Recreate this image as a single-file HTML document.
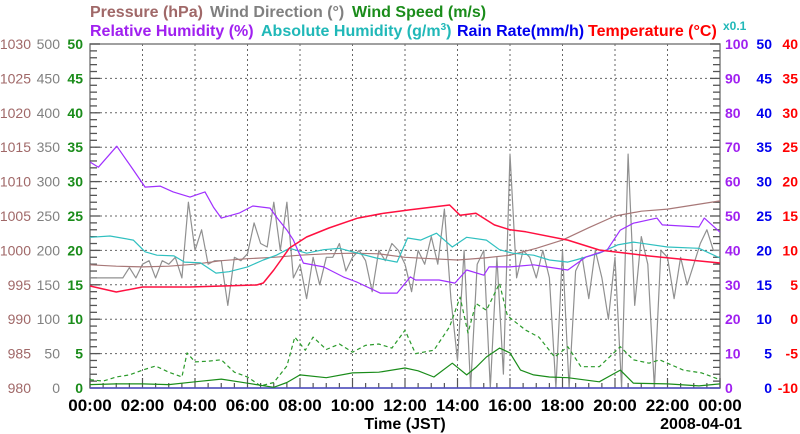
<!DOCTYPE html>
<html><head><meta charset="utf-8"><style>
html,body{margin:0;padding:0;background:#fff;}
svg{display:block;font-family:"Liberation Sans",sans-serif;}
</style></head><body>
<svg id="chart" width="800" height="434" viewBox="0 0 800 434" xmlns="http://www.w3.org/2000/svg">
<g font-size="16" font-weight="bold">
<text x="90" y="17" fill="#a06868">Pressure (hPa)</text>
<text x="210" y="17" fill="#808080">Wind Direction (°)</text>
<text x="352" y="17" fill="#1a8c1a">Wind Speed (m/s)</text>
<text x="90" y="36" fill="#a020f0">Relative Humidity (%)</text>
<text x="261" y="36" fill="#20b8b8">Absolute Humidity (g/m<tspan dy="-6" font-size="10">3</tspan><tspan dy="6">)</tspan></text>
<text x="457" y="36" fill="#0000ee">Rain Rate(mm/h)</text>
<text x="588" y="36" fill="#ff0000">Temperature (°C)</text>
<text x="723" y="30" fill="#20b8b8" font-size="12">x0.1</text>
</g>
<g id="grid"></g>
<g id="axes"></g>
<g id="series"></g>
<text x="405" y="429" font-size="16" font-weight="bold" text-anchor="middle">Time (JST)</text>
<text x="742" y="429" font-size="16" font-weight="bold" text-anchor="end">2008-04-01</text>
</svg>
<script>
// ---- data ----
const xTickLabels = ["00:00","02:00","04:00","06:00","08:00","10:00","12:00","14:00","16:00","18:00","20:00","22:00","00:00"];
const pressureTicks = [980,985,990,995,1000,1005,1010,1015,1020,1025,1030];
const windDirTicks = [0,50,100,150,200,250,300,350,400,450,500];
const windSpeedTicks = [0,5,10,15,20,25,30,35,40,45,50];
const rhTicks = [0,10,20,30,40,50,60,70,80,90,100];
const rainTicks = [0,5,10,15,20,25,30,35,40,45,50];
const tempTicks = [-10,-5,0,5,10,15,20,25,30,35,40];

const pressureHours = [0,1,2,3,4,5,6,7,8,9,10,11,12,13,14,15,16,17,18,19,20,21,22,23,24];
const pressureValues = [997.9,997.7,997.6,997.7,998.0,998.5,998.8,999.0,999.3,999.5,999.6,999.5,999.0,998.8,998.6,998.9,999.3,1000.3,1001.5,1003.3,1005.0,1005.7,1006.0,1006.6,1007.2];

const rhHours = [0,0.32,1.02,1.65,2.1,2.67,3.17,3.81,4.38,4.7,5.0,5.7,6.2,6.86,7.1,7.5,7.75,8.13,8.9,9.65,10.16,11.05,11.7,12.2,12.4,13.3,13.9,14.35,15.0,15.2,16.0,16.9,17.4,18.2,18.9,19.7,20.2,20.7,21.6,21.8,23.2,23.4,24];
const rhValues = [65.7,64.2,70.3,63.4,58.4,58.7,57.0,55.5,57.0,52.6,49.4,50.9,52.9,52.3,49.7,45.9,43.0,36.3,35.2,32.3,30.8,27.6,27.6,32.3,31.4,31.4,30.5,34.3,32.8,35.2,35.2,35.8,35.2,34.3,38.1,40.1,45.9,47.9,49.4,47.4,46.8,49.4,45.3];

const tempHours = [0,1.0,2.0,3.8,6.35,6.6,7.0,7.6,8.25,9.1,10.2,11.2,12.2,13.7,14.1,14.7,15.4,16.0,16.6,18.2,19.4,21.3,24];
const tempValues = [4.83,3.95,4.68,4.68,4.97,5.26,7.15,10.35,11.95,13.26,14.7,15.4,15.9,16.6,15.1,15.4,13.7,13.0,12.7,11.5,10.06,9.19,8.17];

const ahHours = [0,0.76,1.65,2.1,2.55,3.2,3.6,4.2,4.8,5.3,6.0,6.6,7.1,7.6,8.25,8.9,9.5,10.2,10.9,11.7,12.1,12.6,13.2,13.8,14.35,15.1,15.6,16.1,16.9,17.5,18.2,18.5,19.4,20.1,20.7,22.0,23.2,24];
const ahValues = [21.9,22.1,21.5,19.8,19.3,19.2,18.3,18.2,16.7,16.9,17.6,18.6,19.3,20.3,19.6,20.1,20.3,19.6,18.9,18.3,21.8,21.5,22.5,20.5,21.9,21.5,20.1,19.6,19.3,18.6,18.3,18.6,19.6,20.8,21.2,20.5,20.3,18.9];

const windDirValues = [160,160,160,160,160,160,175,160,180,185,160,185,180,190,160,270,200,230,180,185,185,120,190,185,195,240,210,205,270,200,270,160,180,130,190,150,190,190,210,170,190,200,185,140,200,185,210,200,180,140,200,180,220,180,260,130,40,200,0,180,200,0,190,20,340,160,200,190,160,200,160,0,200,0,170,190,130,200,160,100,190,0,340,120,220,180,0,200,190,130,190,150,180,210,230,200,200];

const windHours = [0,1,2,3,4,5,6,7,7.5,8,9,10,11,12,12.5,13.1,13.8,14.35,14.7,15.1,15.6,16.0,16.4,16.9,17.5,18.2,19.4,20.2,20.7,22,23.2,24];
const windValues = [0.5,0.6,0.6,0.5,0.9,1.3,0.7,0.1,0.8,1.9,1.5,2.2,2.3,2.9,2.5,1.6,3.6,1.9,3.0,4.5,5.8,5.1,2.6,1.9,1.6,1.5,0.9,2.6,0.7,0.6,0.3,0.6];

const gustHours = [0,0.5,1,1.5,2,2.5,3,3.5,3.7,4,4.5,5,5.5,6,6.5,7,7.5,7.8,8.2,8.5,9,9.5,10,10.5,11,11.5,12,12.4,13.1,13.7,14.1,14.4,14.7,15.1,15.6,15.9,16.1,16.6,17.1,17.7,18.2,18.7,19.4,20.2,20.7,21.3,21.7,22.6,23.3,24];
const gustValues = [1.2,1.0,1.6,1.9,2.6,3.2,2.3,1.6,5.1,3.8,3.9,4.1,2.3,1.6,0.3,0.8,3.2,7.4,5.5,7.4,5.6,6.4,5.2,6.2,6.4,5.8,8.4,5.0,5.5,8.9,13.2,8.0,12.3,11.3,15.2,10.5,9.9,8.4,7.4,4.5,6.0,3.1,3.1,6.0,4.1,3.6,4.1,2.6,2.2,1.2];

const rainHours = [0,24];
const rainValues = [0,0];

// ---- axis functions ----
const X0=90,X1=720,Y0=388,Y1=44;
const xScale = h => X0 + h/24*(X1-X0);
const yScale = (lo,hi) => v => Y0 - (v-lo)/(hi-lo)*(Y0-Y1);
const yPres=yScale(980,1030), yDir=yScale(0,500), yWs=yScale(0,50), yRh=yScale(0,100), yRain=yScale(0,50), yTemp=yScale(-10,40);
const NS="http://www.w3.org/2000/svg";
function mk(tag,attrs,parent){const e=document.createElementNS(NS,tag);for(const k in attrs)e.setAttribute(k,attrs[k]);parent.appendChild(e);return e;}
const grid=document.getElementById('grid'), axes=document.getElementById('axes'), series=document.getElementById('series');

for(let i=1;i<10;i++){const y=Y0-i*(Y0-Y1)/10;
 const l=mk('line',{x1:X0,x2:X1,y1:y,y2:y,stroke:'#666','stroke-dasharray':'2,3','stroke-width':1},grid);
 
 }
for(let i=1;i<12;i++){const x=xScale(i*2);
 const l=mk('line',{x1:x,x2:x,y1:Y1,y2:Y0,stroke:'#666','stroke-dasharray':'2,3','stroke-width':1},grid);
 
 }
const fr=mk('rect',{x:X0,y:Y1,width:X1-X0,height:Y0-Y1,fill:'none',stroke:'#777','stroke-width':1.4},axes);


for(let i=0;i<=50;i++){const y=Y0-i*(Y0-Y1)/50;const len=i%5===0?10:7;
 const a=mk('line',{x1:X0,x2:X0+len,y1:y,y2:y,stroke:'#555','stroke-width':1.3},axes);
 
 
 const b=mk('line',{x1:X1,x2:X1-len,y1:y,y2:y,stroke:'#555','stroke-width':1.3},axes);
 
 }
for(let h=0;h<=24;h+=0.5){const x=xScale(h);const len=h%2===0?10:5;
 const t=mk('line',{x1:x,x2:x,y1:Y0,y2:Y0-len,stroke:'#555','stroke-width':1.2},axes);
 
 }
function label(txt,x,y,anchor,color,bold,name,size){const t=mk('text',{x:x,y:y,'text-anchor':anchor,fill:color,'font-size':size||14,'font-weight':bold?'bold':'normal'},axes);t.textContent=txt;
 
 }
pressureTicks.forEach(v=>label(String(v),31,yPres(v)+5,'end','#a06868',false,'pressure-tick-label'));
windDirTicks.forEach(v=>label(String(v),60,yDir(v)+5,'end','#808080',false,'wind-direction-tick-label'));
windSpeedTicks.forEach(v=>label(String(v),83,yWs(v)+5,'end','#1a8c1a',true,'wind-speed-tick-label'));
rhTicks.forEach(v=>label(String(v),725,yRh(v)+5,'start','#a020f0',true,'rh-tick-label'));
rainTicks.forEach(v=>label(String(v),772,yRain(v)+5,'end','#0000ee',true,'rain-tick-label'));
tempTicks.forEach(v=>label(String(v),798,yTemp(v)+5,'end','#ff0000',true,'temperature-tick-label'));
xTickLabels.forEach((s,i)=>label(s,xScale(i*2),411,'middle','#000',true,'x-tick-label',17));

function line(hours,vals,ys,color,name,extra){
 const d=vals.map((v,i)=>(i?'L':'M')+xScale(hours[i]).toFixed(1)+','+ys(v).toFixed(1)).join('');
 const p=mk('path',Object.assign({d:d,fill:'none',stroke:color,'stroke-width':1.2,'stroke-linejoin':'round'},extra||{}),series);
 
 }
const dirHours=windDirValues.map((v,i)=>i*0.25);
line(dirHours,windDirValues,yDir,'#909090','wind-direction-line');
line(rainHours,rainValues,yRain,'#5050c8','rain-rate-line',{'stroke-width':1.5});
line(gustHours,gustValues,yWs,'#2a9a2a','wind-gust-line',{'stroke-dasharray':'4,3'});
line(windHours,windValues,yWs,'#1a8c1a','wind-speed-line');
line(pressureHours,pressureValues,yPres,'#a87878','pressure-line');
line(ahHours,ahValues,yRain,'#30c0c0','absolute-humidity-line');
line(rhHours,rhValues,yRh,'#a030ff','relative-humidity-line');
line(tempHours,tempValues,yTemp,'#ff1040','temperature-line',{'stroke-width':1.5});
</script>
</body></html>
